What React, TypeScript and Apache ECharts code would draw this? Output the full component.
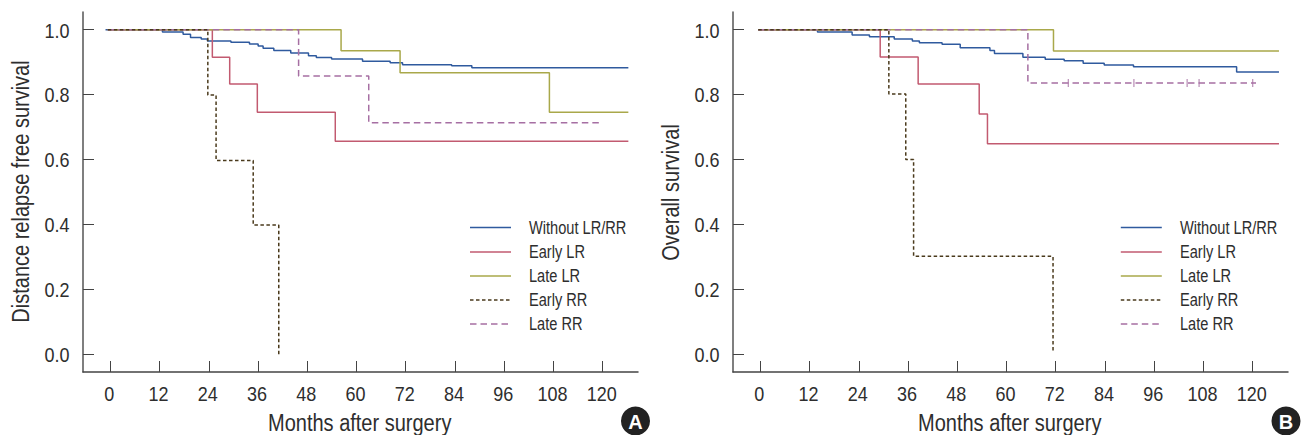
import React, { useEffect, useRef } from "react";
import * as echarts from "echarts";

const tickMonths = [0, 12, 24, 36, 48, 60, 72, 84, 96, 108, 120];
const yTicks = [0, 0.2, 0.4, 0.6, 0.8, 1.0];
const seriesNames = ["Without LR/RR", "Early LR", "Late LR", "Early RR", "Late RR"];
const seriesColors = ["#2f5a9e", "#c25a70", "#a9a84a", "#4a3a1c", "#a66fa3"];
const xTitle = "Months after surgery";
const yTitleA = "Distance relapse free survival";
const yTitleB = "Overall survival";

const aWithout = [[-1.16,1],[12.71,0.993],[17.74,0.986],[19.55,0.976],[22.16,0.971],[23.67,0.965],[29.4,0.961],[33.92,0.956],[36.03,0.95],[37.24,0.943],[39.85,0.936],[43.98,0.928],[48.3,0.92],[50.21,0.914],[53.93,0.91],[61.47,0.903],[68.2,0.898],[71.22,0.892],[83.19,0.889],[88.11,0.883],[126.25,0.883]];
const aEarlyLR = [[-0.6,1],[24.87,0.915],[29.1,0.833],[35.83,0.7455],[54.83,0.656],[126.25,0.656]];
const aLateLR = [[-0.6,1],[56.24,0.935],[70.62,0.8675],[107.01,0.7455],[126.25,0.7455]];
const aEarlyRR = [[-0.6,1],[23.77,0.799],[25.78,0.597],[34.83,0.398],[41.06,-0.007]];
const aLateRR = [[-0.6,1],[45.89,0.857],[62.98,0.7135],[119.78,0.7135]];

const bWithout = [[-0.5,1],[13.94,0.993],[22.38,0.984],[26.6,0.978],[32.64,0.971],[37.06,0.965],[38.77,0.96],[44.3,0.955],[48.72,0.944],[55.96,0.936],[57.07,0.927],[64,0.915],[69.43,0.909],[74.06,0.904],[78.68,0.897],[83.81,0.891],[90.95,0.886],[116.08,0.87],[126.4,0.87]];
const bEarlyLR = [[-0.5,1],[29.22,0.916],[38.47,0.833],[53.35,0.74],[55.36,0.649],[126.4,0.649]];
const bLateLR = [[-0.5,1],[71.45,0.934],[126.4,0.934]];
const bEarlyRR = [[-0.5,1],[31.33,0.802],[35.45,0.6],[37.36,0.302],[71.34,0.005]];
const bLateRR = [[-0.5,1],[65.21,0.836],[120.81,0.836]];
const bCensorMonths = [75.06, 91.05, 104.02, 106.93, 120];
const bCensorValue = 0.836;

const FONT = "'Liberation Sans', sans-serif";
const INK = "#2e2e2e";
const DASHES: Record<number, number[]> = { 3: [3.5, 2.5], 4: [6.5, 4] };

function stepSeries(index: number, data: number[][], gridIndex: number) {
  return {
    type: "line",
    name: seriesNames[index],
    step: "end",
    data,
    xAxisIndex: gridIndex,
    yAxisIndex: gridIndex,
    showSymbol: false,
    symbol: "none",
    z: index === 3 ? 5 : 3,
    lineStyle: { color: seriesColors[index], width: 1.5, type: DASHES[index] ?? "solid" },
    itemStyle: { color: seriesColors[index] },
  };
}

function xAxis(gridIndex: number) {
  return {
    type: "value",
    gridIndex,
    min: -6.65,
    max: 128.6,
    axisLine: { show: true, onZero: false, lineStyle: { color: "#444", width: 1.5 } },
    axisTick: { show: true, inside: true, length: 11, customValues: tickMonths, lineStyle: { color: "#444", width: 1 } },
    axisLabel: { show: false },
    splitLine: { show: false },
  };
}

function yAxis(gridIndex: number) {
  return {
    type: "value",
    gridIndex,
    min: -0.0545,
    max: 1.0545,
    axisLine: { show: true, onZero: false, lineStyle: { color: "#555", width: 1.5 } },
    axisTick: { show: true, inside: true, length: 11, customValues: yTicks, lineStyle: { color: "#444", width: 1 } },
    axisLabel: { show: false },
    splitLine: { show: false },
  };
}

function label(text: string, x: number, y: number, size: number, scaleX: number, align: string, rotation = 0) {
  return {
    type: "text",
    x,
    y,
    scaleX,
    rotation,
    silent: true,
    style: { text, fill: INK, font: `${size}px ${FONT}`, textAlign: align, textVerticalAlign: "middle" },
  };
}

function legendGraphics(lineLeft: number, textLeft: number) {
  const rows = [227.5, 252, 276, 300, 324];
  const out: any[] = [];
  seriesNames.forEach((name, i) => {
    out.push({
      type: "line",
      silent: true,
      shape: { x1: lineLeft, y1: rows[i], x2: lineLeft + 41, y2: rows[i] },
      style: { stroke: seriesColors[i], lineWidth: 1.5, lineDash: DASHES[i] ?? null },
    });
    out.push(label(name, textLeft, rows[i], 18.5, 0.79, "left"));
  });
  return out;
}

function badge(cx: number, cy: number, letter: string) {
  return [
    { type: "circle", silent: true, shape: { cx, cy, r: 14.5 }, style: { fill: "#222" } },
    {
      type: "text",
      x: cx,
      y: cy + 1,
      silent: true,
      style: { text: letter, fill: "#fff", font: `bold 20px ${FONT}`, textAlign: "center", textVerticalAlign: "middle" },
    },
  ];
}

export default function App() {
  const ref = useRef<HTMLDivElement>(null);
  useEffect(() => {
    const chart = echarts.init(ref.current!, undefined, { renderer: "svg" });
    chart.setOption({
      animation: false,
      backgroundColor: "#fff",
      grid: [
        { left: 83, width: 555, top: 12, height: 360 },
        { left: 733, width: 555, top: 12, height: 360 },
      ],
      xAxis: [xAxis(0), xAxis(1)],
      yAxis: [yAxis(0), yAxis(1)],
      series: [
        stepSeries(0, aWithout, 0),
        stepSeries(1, aEarlyLR, 0),
        stepSeries(2, aLateLR, 0),
        stepSeries(3, aEarlyRR, 0),
        stepSeries(4, aLateRR, 0),
        stepSeries(0, bWithout, 1),
        stepSeries(1, bEarlyLR, 1),
        stepSeries(2, bLateLR, 1),
        stepSeries(3, bEarlyRR, 1),
        stepSeries(4, bLateRR, 1),
        {
          type: "scatter",
          xAxisIndex: 1,
          yAxisIndex: 1,
          symbol: "rect",
          symbolSize: [1.2, 8],
          data: bCensorMonths.map((m) => [m, bCensorValue]),
          itemStyle: { color: seriesColors[4] },
          silent: true,
        },
      ],
    });
    const labels: any[] = [];
    [0, 1].forEach((gridIndex) => {
      tickMonths.forEach((m) => {
        const px = chart.convertToPixel({ xAxisIndex: gridIndex }, m) as number;
        labels.push(label(String(m), px - 1, 394.5, 20, 0.9, "center"));
      });
      const axisLeft = gridIndex === 0 ? 83 : 733;
      yTicks.forEach((v) => {
        const py = chart.convertToPixel({ yAxisIndex: gridIndex }, v) as number;
        labels.push(label(v.toFixed(1), axisLeft - 13.5, py + 1, 20, 0.9, "right"));
      });
    });
    chart.setOption({
      graphic: [
        ...labels,
        label(xTitle, 359.7, 423, 23, 0.87, "center"),
        label(xTitle, 1009.7, 423, 23, 0.87, "center"),
        label(yTitleA, 20.5, 191.5, 23, 0.87, "center", Math.PI / 2),
        label(yTitleB, 671, 192.5, 23, 0.87, "center", Math.PI / 2),
        ...legendGraphics(470, 529),
        ...legendGraphics(1120.8, 1180),
        ...badge(635.5, 421, "A"),
        ...badge(1286, 421, "B"),
      ],
    });
    return () => chart.dispose();
  }, []);
  return <div ref={ref} style={{ position: "fixed", left: 0, top: 0, width: 1302, height: 435 }} />;
}
